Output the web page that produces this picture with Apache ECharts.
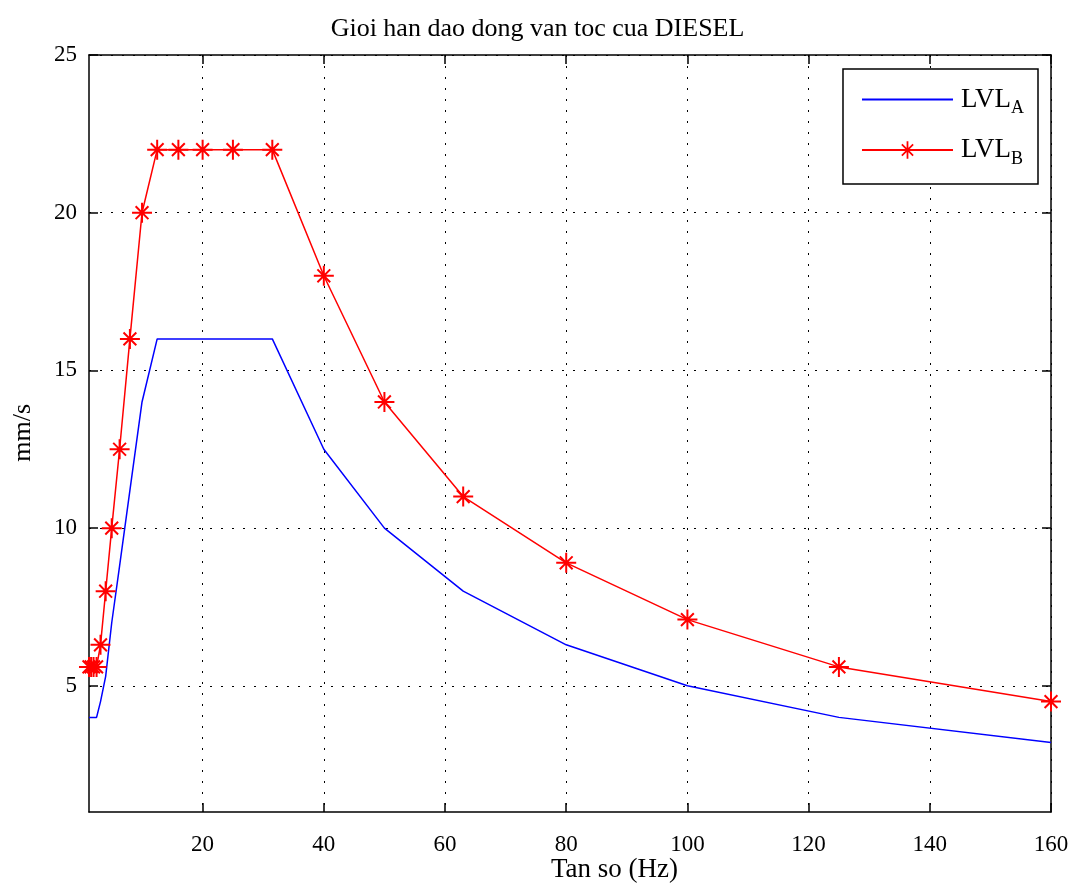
<!DOCTYPE html>
<html>
<head>
<meta charset="utf-8">
<script src="https://cdn.jsdelivr.net/npm/echarts@6/dist/echarts.min.js"></script>
<style>
  html, body { margin: 0; padding: 0; background: #fff; }
  #chart { width: 1075px; height: 887px; }
</style>
</head>
<body>
<div id="chart"></div>
<script>
// tan so (Hz), 1/3 octave
const freq = [1.25, 1.6, 2, 2.5, 3.15, 4, 5, 6.3, 8, 10, 12.5, 16, 20, 25, 31.5, 40, 50, 63, 80, 100, 125, 160];
const lvlA = [4, 4, 4, 4, 4.5, 5.3, 7, 8.8, 11.2, 14, 16, 16, 16, 16, 16, 12.5, 10, 8, 6.3, 5, 4, 3.2];
const lvlB = [5.6, 5.6, 5.6, 5.6, 6.3, 8, 10, 12.5, 16, 20, 22, 22, 22, 22, 22, 18, 14, 11, 8.9, 7.1, 5.6, 4.5];
const xTicks = [20, 40, 60, 80, 100, 120, 140, 160];
const yTicks = [5, 10, 15, 20, 25];

const FONT = 'Liberation Serif';
// dau sao kieu matlab '*'
const STAR = 'path://M0 9H20V11H0Z M9 0H11V20H9Z M2.9 4.3L4.3 2.9L17.1 15.7L15.7 17.1Z M15.7 2.9L17.1 4.3L4.3 17.1L2.9 15.7Z';

function pairs(xs, ys) {
  return xs.map((x, i) => [x, ys[i]]);
}

const chart = echarts.init(document.getElementById('chart'), null, { renderer: 'canvas' });

const gridLine = { show: true, lineStyle: { color: '#000', width: 1, type: [2, 9] } };

function xAxisDef(pos, labels) {
  return {
    type: 'value', position: pos, min: 1.25, max: 160,
    axisLine: { show: true, onZero: false, lineStyle: { color: '#000', width: 1.5 } },
    axisTick: { show: true, inside: true, length: 9, customValues: xTicks, lineStyle: { color: '#000', width: 1.5 } },
    axisLabel: { show: labels, customValues: xTicks, color: '#000', fontFamily: FONT, fontSize: 23, margin: 21 },
    splitLine: labels ? gridLine : { show: false }
  };
}

function yAxisDef(pos, labels) {
  return {
    type: 'value', position: pos, min: 1, max: 25,
    axisLine: { show: true, onZero: false, lineStyle: { color: '#000', width: 1.5 } },
    axisTick: { show: true, inside: true, length: 9, customValues: yTicks, lineStyle: { color: '#000', width: 1.5 } },
    axisLabel: { show: labels, customValues: yTicks, color: '#000', fontFamily: FONT, fontSize: 23, margin: 12 },
    splitLine: labels ? gridLine : { show: false }
  };
}

const option = {
  animation: false,
  backgroundColor: '#fff',
  title: {
    text: 'Gioi han dao dong van toc cua DIESEL',
    left: 'center', top: 11,
    textStyle: { fontFamily: FONT, fontSize: 26, fontWeight: 'normal', color: '#000' }
  },
  grid: { left: 89, top: 55, width: 962, height: 757, show: false },
  xAxis: [xAxisDef('bottom', true), xAxisDef('top', false)],
  yAxis: [yAxisDef('left', true), yAxisDef('right', false)],
  legend: {
    orient: 'vertical', right: 37, top: 69,
    backgroundColor: '#fff', borderColor: '#000', borderWidth: 1.5, borderRadius: 0,
    padding: [17, 14, 16, 18], itemGap: 19, itemWidth: 91, itemHeight: 22,
    formatter: name => '{n|' + name.slice(0, 3) + '}{s|' + name.slice(3) + '}',
    textStyle: {
      color: '#000', fontFamily: FONT,
      rich: {
        n: { fontFamily: FONT, fontSize: 27, color: '#000', padding: [0, 0, 0, 3] },
        s: { fontFamily: FONT, fontSize: 18, color: '#000', verticalAlign: 'bottom', padding: [18, 0, 0, 0] }
      }
    },
    data: [
      { name: 'LVLA', itemStyle: { color: 'rgba(0,0,0,0)', opacity: 0 } },
      { name: 'LVLB' }
    ]
  },
  graphic: [
    {
      type: 'text', left: 551, top: 856,
      style: { text: 'Tan so (Hz)', font: '27px "Liberation Serif"', fill: '#000' }
    },
    {
      type: 'text', left: 10, top: 404, rotation: Math.PI / 2,
      style: { text: 'mm/s', font: '26px "Liberation Serif"', fill: '#000' }
    }
  ],
  series: [
    {
      name: 'LVLA', type: 'line', data: pairs(freq, lvlA),
      symbol: 'circle', showSymbol: false,
      lineStyle: { color: '#0000ff', width: 1.5 }, itemStyle: { color: '#0000ff' }
    },
    {
      name: 'LVLB', type: 'line', data: pairs(freq, lvlB), clip: false,
      symbol: STAR, symbolSize: 20, showAllSymbol: true,
      lineStyle: { color: '#ff0000', width: 1.5 }, itemStyle: { color: '#ff0000' }
    }
  ]
};

chart.setOption(option);
</script>
</body>
</html>
